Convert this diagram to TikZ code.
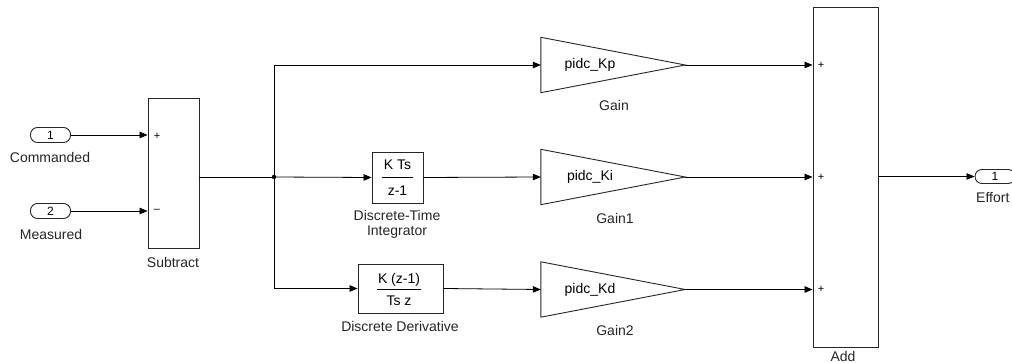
\documentclass[tikz,border=0pt]{standalone}
\usepackage{fontspec}
\setmainfont{Liberation Sans}
\usetikzlibrary{arrows.meta}
\begin{document}
\begin{tikzpicture}[x=1pt,y=-1pt,
  blk/.style={draw=black!85,line width=0.9pt,fill=white,inner sep=0pt},
  lbl/.style={font=\fontsize{14}{16}\selectfont,inner sep=0pt,text=black!85},
  txt/.style={font=\fontsize{14}{16}\selectfont,inner sep=0pt},
  sgn/.style={font=\fontsize{11}{12}\selectfont,inner sep=0pt},
  sig/.style={line width=0.8pt,-{Triangle[length=8pt,width=6.5pt]}},
  wire/.style={line width=0.8pt},
  port/.style={draw=black!85,line width=0.9pt,rounded corners=7pt,minimum width=40pt,minimum height=15pt,inner sep=0pt,font=\fontsize{12}{13}\selectfont}]
\useasboundingbox (0,0) rectangle (1012,363);

% inports
\node[port] (cmd) at (50.5,135) {1};
\node[lbl] (cmdl) at (50,157) {Commanded};
\node[port] (meas) at (50.5,211) {2};
\node[lbl] (measl) at (51,234) {Measured};

% subtract
\node[blk,minimum width=51pt,minimum height=150pt] (sub) at (173.5,173) {};
\node[lbl] (subl) at (173,262) {Subtract};
\node[sgn] (sp) at (157,136) {+};
\node[sgn] (sm) at (157,211) {--};

% integrator
\node[blk,minimum width=51pt,minimum height=51pt] (int) at (397.5,177.5) {};
\node[txt] (intn) at (397.5,165) {K Ts};
\node[txt] (intd) at (397.5,191) {z-1};
\draw[line width=0.7pt] (382,177.5) -- (413,177.5);
\node[lbl] (intl1) at (397,215) {Discrete-Time};
\node[lbl] (intl2) at (397,232) {Integrator};

% derivative
\node[blk,minimum width=85pt,minimum height=49pt] (der) at (400.5,288.5) {};
\node[txt] (dern) at (399,279.5) {K (z-1)};
\node[txt] (derd) at (399,301) {Ts z};
\draw[line width=0.7pt] (377,289) -- (421,289);
\node[lbl] (derl) at (400,326) {Discrete Derivative};

% gains
\node[minimum width=144pt,minimum height=55pt,inner sep=0pt] (g0) at (613,65) {};
\node[minimum width=144pt,minimum height=55pt,inner sep=0pt] (g1) at (613,177) {};
\node[minimum width=144pt,minimum height=55pt,inner sep=0pt] (g2) at (613,289.5) {};
\foreach \g in {g0,g1,g2}
  \draw[blk] (\g.north west) -- (\g.east) -- (\g.south west) -- cycle;
\node[txt] (g0t) at (590,65) {pidc\_Kp};
\node[txt] (g1t) at (590,177) {pidc\_Ki};
\node[txt] (g2t) at (590,289.5) {pidc\_Kd};
\node[lbl] (g0l) at (614,105) {Gain};
\node[lbl] (g1l) at (615,218) {Gain1};
\node[lbl] (g2l) at (615,330) {Gain2};

% add
\node[blk,minimum width=65pt,minimum height=340pt] (add) at (845.5,177) {};
\node[lbl] (addl) at (843,356) {Add};
\node[sgn] (a1) at (821,65.5) {+};
\node[sgn] (a2) at (821,177.5) {+};
\node[sgn] (a3) at (821,289.5) {+};

% outport
\node[port,minimum height=14pt] (eff) at (995,176.5) {1};
\node[lbl,anchor=west] (effl) at (976,198) {Effort};

% wires
\coordinate (j) at (274,177);
\draw[sig] (cmd.east) -- (sub.west |- cmd.east);
\draw[sig] (meas.east) -- (sub.west |- meas.east);
\draw[wire] (sub.east |- j) -- (j);
\fill (j) circle (2.2pt);
\draw[sig] (j) -- (int.west);
\draw[sig] (j) |- (g0.west);
\draw[sig] (j) |- (der.west);
\draw[sig] (int.east) -- (g1.west);
\draw[sig] (der.east) -- (g2.west);
\draw[sig] (g0.east) -- (add.west |- g0.east);
\draw[sig] (g1.east) -- (add.west |- g1.east);
\draw[sig] (g2.east) -- (add.west |- g2.east);
\draw[sig] (add.east |- eff.west) -- (eff.west);
\end{tikzpicture}
\end{document}
